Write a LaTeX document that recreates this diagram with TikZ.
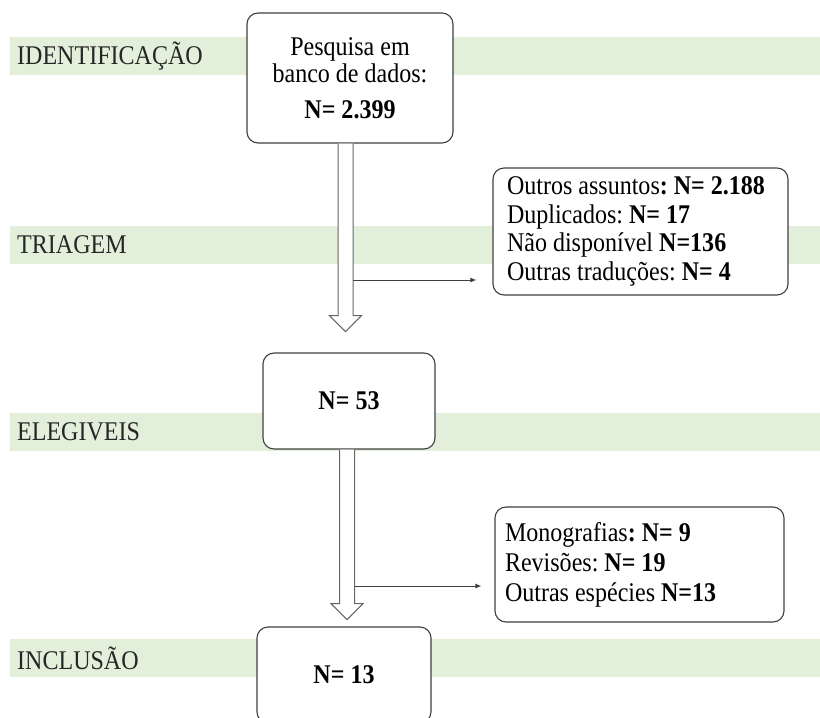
\documentclass[tikz,border=0pt]{standalone}
\usepackage{fontspec}
\setmainfont{Liberation Serif}[FakeStretch=0.89, WordSpace=1.0]
\usetikzlibrary{arrows.meta, positioning}
\definecolor{bandgreen}{HTML}{E2EFDA}
\definecolor{boxline}{HTML}{404040}

\begin{document}
\frenchspacing
\begin{tikzpicture}[
  x=1pt, y=-1pt,
  font=\fontsize{27}{27.5}\selectfont,
  band/.style={fill=bandgreen, minimum width=810pt, minimum height=38pt, anchor=west, inner sep=0pt},
  stage/.style={text=black!85, inner sep=0pt},
  fbox/.style={draw=boxline, line width=1.1pt, fill=white, rounded corners=11pt, align=center, inner sep=0pt},
  xbox/.style={fbox, align=flush left},
  arr/.style={draw=boxline, line width=1pt, -{Latex[length=6pt, width=5pt]}},
  pics/hollow/.style={code={
    \draw[draw=black!60, line width=1pt, fill=white] (-7.5,0) -- (-7.5,#1) -- (-16,#1) -- (0,#1+16) -- (16,#1) -- (7.5,#1) -- (7.5,0);
  }}
]
\useasboundingbox (0,0) rectangle (820,718);

% stage bands
\node[band] (bid) at (10,56) {};
\node[band] (btr) at (10,244.5) {};
\node[band] (bel) at (10,431.5) {};
\node[band] (bin) at (10,658) {};
\node[stage, right=7pt of bid.west] (sid) {IDENTIFICAÇÃO};
\node[stage, right=7pt of btr.west] (str) {TRIAGEM};
\node[stage, right=7pt of bel.west] (sel) {ELEGIVEIS};
\node[stage, right=7pt of bin.west] (sin) {INCLUSÃO};

% boxes
\node[fbox, minimum width=206pt, minimum height=130pt] (src) at (350,78)
  {Pesquisa em\\banco de dados:\\[8.5pt]\textbf{N= 2.399}};
\node[xbox, font=\fontsize{27}{28.5}\selectfont, text width=267pt, inner xsep=14pt, minimum height=127pt] (exc1) at (640.5,231.5)
  {Outros assuntos\textbf{: N= 2.188}\\Duplicados: \textbf{N= 17}\\Não disponível \textbf{N=136}\\Outras traduções: \textbf{N= 4}};
\node[fbox, minimum width=172pt, minimum height=96pt] (eleg) at (349,401) {\textbf{N= 53}};
\node[xbox, font=\fontsize{27}{30}\selectfont, text width=269pt, inner xsep=10pt, minimum height=115pt] (exc2) at (639.5,564.5)
  {Monografias\textbf{: N= 9}\\Revisões: \textbf{N= 19}\\Outras espécies \textbf{N=13}};
\node[fbox, minimum width=174pt, minimum height=96pt] (incl) at (344,675) {\textbf{N= 13}};

% flow
\pic at ([xshift=-4.5pt]src.south) {hollow=172};
\pic at ([xshift=-2pt]eleg.south) {hollow=154};
\coordinate (j1) at (353,280);
\coordinate (j2) at (355,586);
\draw[arr, shorten >=16pt] (j1) -- (j1 -| exc1.west);
\draw[arr, shorten >=13pt] (j2) -- (j2 -| exc2.west);
\end{tikzpicture}
\end{document}
